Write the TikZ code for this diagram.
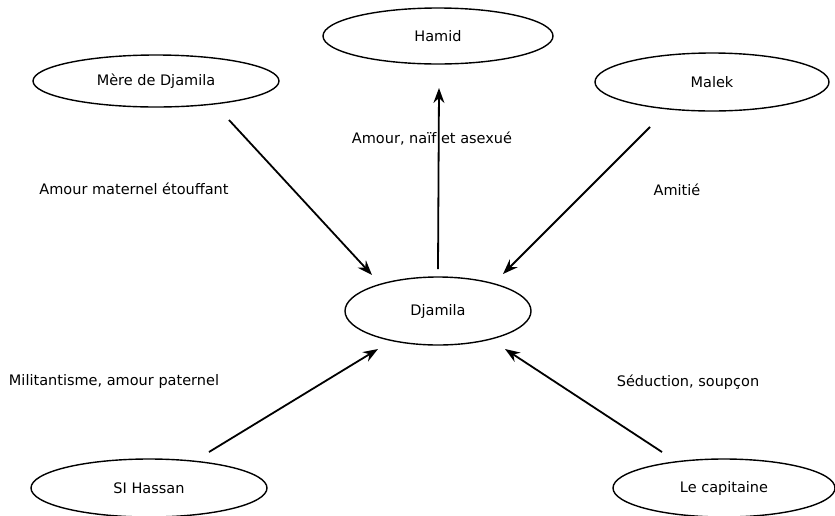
\documentclass[tikz,border=0pt]{standalone}
\usepackage{fontspec}
\setmainfont{DejaVu Sans}
\usetikzlibrary{shapes.geometric,arrows.meta}
\tikzset{
  person/.style={ellipse, draw, line width=1.4pt, inner sep=0pt, font=\fontsize{14.5}{16}\selectfont},
  rel/.style={line width=1.8pt, -{Stealth[length=15pt,width=11pt,inset=5pt]}},
  lbl/.style={font=\fontsize{14.5}{16}\selectfont, inner sep=0pt}
}
\begin{document}
\begin{tikzpicture}[x=1pt,y=-1pt]
\useasboundingbox (0,0) rectangle (835,515);
\node[person, minimum width=230pt, minimum height=56pt] (hamid) at (438,36) {Hamid};
\node[person, minimum width=246pt, minimum height=52pt] (mere) at (156,81) {Mère de Djamila};
\node[person, minimum width=234pt, minimum height=58pt] (malek) at (712,82) {Malek};
\node[person, minimum width=186pt, minimum height=68pt] (djamila) at (438,311) {Djamila};
\node[person, minimum width=236pt, minimum height=58pt] (hassan) at (149,488) {SI Hassan};
\node[person, minimum width=222pt, minimum height=58pt] (capitaine) at (724,488) {Le capitaine};

\coordinate (m1) at (229,120);
\coordinate (m2) at (372,275);
\coordinate (h1) at (438,269);
\coordinate (h2) at (439,88);
\coordinate (k1) at (650,127);
\coordinate (k2) at (503,274);
\coordinate (s1) at (209,452);
\coordinate (s2) at (378,349);
\coordinate (c1) at (662,452);
\coordinate (c2) at (505,349);

\draw[rel] (m1) -- (m2);
\draw[rel] (h1) -- (h2);
\draw[rel] (k1) -- (k2);
\draw[rel] (s1) -- (s2);
\draw[rel] (c1) -- (c2);

\node[lbl] (lh) at (432,139) {Amour, naïf et asexué};
\node[lbl] (lm) at (134,189) {Amour maternel étouffant};
\node[lbl] (lk) at (677,190) {Amitié};
\node[lbl] (ls) at (114,381) {Militantisme, amour paternel};
\node[lbl] (lc) at (688,382) {Séduction, soupçon};
\end{tikzpicture}
\end{document}
